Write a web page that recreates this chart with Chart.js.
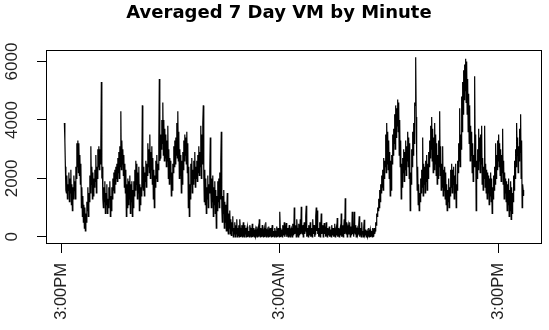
<!DOCTYPE html>
<html>
<head>
<meta charset="utf-8">
<script src="https://cdn.jsdelivr.net/npm/chart.js@4.4.1/dist/chart.umd.min.js"></script>
<style>
  html, body { margin: 0; padding: 0; background: #fff; }
  canvas { display: block; }
</style>
</head>
<body>
<canvas id="myChart" width="549" height="330"></canvas>
<script>
// averaged VM (about two readings per pixel column)
var vm = [
  3900,3300, 2400,1600, 1500,2100, 1300,1800, 1600,2200, 1200,2000, 1500,2300, 1100,1800, 900,1700, 1300,2100,
  1600,1900, 1300,2400, 2000,3200, 2400,3300, 2200,3200, 2100,2800, 1800,2500, 1000,1700, 700,1400, 500,1100,
  300,1000, 200,800, 500,1200, 900,1700, 700,1500, 1200,2100, 1500,3100, 1800,2400, 1300,2200, 1400,2000,
  1700,2300, 1900,2800, 1500,2400, 2000,3000, 2400,3100, 2300,3000, 2500,3200, 5300,2000, 2400,1300, 1000,1700,
  1200,1900, 800,1500, 1100,1800, 800,1300, 1000,1700, 1300,1900, 700,1400, 900,1700, 1300,2000, 1600,2200,
  1500,2300, 1800,2400, 2000,2500, 1900,2700, 2200,2900, 2000,3100, 2400,4300, 2300,3300, 2500,3000, 2100,2800,
  1700,2500, 1500,2300, 700,1800, 1000,2000, 1100,1900, 1300,2100, 800,1800, 1200,1900, 700,1600, 1000,1900,
  1400,2300, 1600,2600, 1800,2500, 1300,2200, 1500,2400, 900,1800, 1100,1700, 1400,2200, 4500,1800, 1600,2400,
  1400,2200, 1900,2600, 1700,2500, 2100,3200, 2400,3000, 2200,3500, 2000,2900, 2300,3100, 1800,2700, 1300,2300,
  1000,2100, 1700,2600, 2000,2800, 1900,2500, 2300,3200, 5400,2600, 2700,3500, 3000,4000, 3200,4600, 2800,4000,
  2600,3700, 2700,3500, 2400,3300, 2600,3800, 2000,3000, 1800,2700, 2100,2600, 1400,2200, 1600,2500, 2200,3100,
  2400,3300, 2500,3400, 2800,3900, 2700,4300, 2600,3600, 2000,3000, 2100,2800, 1500,2600, 1800,2900, 2300,3300,
  2600,3500, 2800,3400, 2500,3600, 2200,3200, 1000,2400, 700,1800, 1300,2500, 1800,2700, 1500,2300, 1800,2600,
  2000,2900, 1700,2400, 2000,2600, 1900,2800, 2200,3100, 2100,2900, 2400,3800, 2000,3500, 2500,3900, 4500,2100,
  1200,2300, 1100,2000, 800,1700, 1300,2100, 1000,1800, 1500,2200, 3400,1600, 1000,2000, 1200,2100, 700,1700,
  1100,1900, 800,1600, 300,1400, 900,1900, 1200,2000, 1000,2200, 1300,2600, 3600,1000, 500,1400, 800,1600,
  300,1200, 500,1100, 200,900, 1500,300, 100,800, 300,900, 100,600, 50,500, 200,700, 0,300,
  100,500, 0,400, 100,600, 0,300, 50,400, 0,600, 300,0, 100,400, 0,200, 500,50,
  0,400, 100,300, 0,250, 350,0, 100,200, 0,400, 300,50, 0,200, 450,0, 100,300,
  0,150, 250,0, 50,350, 0,200, 300,0, 600,100, 0,300, 150,0, 400,50, 0,200,
  300,0, 100,500, 0,200, 250,50, 0,350, 150,0, 300,100, 0,250, 400,0, 100,200,
  0,300, 200,50, 0,350, 150,0, 300,100, 0,860, 300,0, 100,250, 0,400, 200,50,
  500,0, 100,300, 470,0, 150,300, 0,200, 400,50, 0,250, 300,100, 0,450, 200,50,
  1000,100, 200,400, 0,600, 300,100, 0,450, 200,50, 600,100, 1030,200, 100,400, 0,300,
  500,100, 200,700, 1060,0, 300,100, 0,400, 200,50, 500,0, 100,300, 0,600, 200,100,
  400,0, 100,700, 1000,200, 900,100, 300,0, 100,500, 0,300, 800,100, 200,400, 0,250,
  470,100, 200,0, 500,100, 0,300, 200,50, 350,0, 100,250, 0,400, 200,50, 300,0,
  100,450, 0,200, 300,50, 640,0, 100,300, 0,200, 300,50, 800,0, 100,400, 0,300,
  600,100, 1320,200, 100,500, 0,300, 400,100, 100,500, 0,350, 200,50, 860,100, 300,0,
  860,200, 100,400, 0,250, 300,50, 100,400, 700,0, 200,300, 0,500, 100,200, 0,300,
  580,50, 100,250, 0,150, 200,0, 50,300, 0,150, 250,0, 100,200, 0,300, 150,0,
  300,100, 200,500, 400,800, 700,1000, 900,1300, 1000,1600, 1200,1800, 1500,2100, 1700,2300, 1600,2700,
  2000,2600, 2400,3500, 2200,3900, 2500,3600, 2300,3300, 2000,2900, 1400,2600, 1600,2800, 2500,3500, 2800,3700,
  3200,4200, 3000,4500, 3400,4400, 3800,4700, 3600,4600, 2800,4000, 2400,3300, 1300,2500, 1700,2700, 2200,3000,
  1900,2900, 2300,3300, 2100,3100, 2600,3600, 2400,3400, 2000,3200, 900,2200, 1800,3000, 2400,3600, 2800,3900,
  3200,4600, 4500,6150, 4100,2800, 1600,2400, 1100,1800, 900,1500, 1200,2000, 1500,2300, 1700,3400, 1400,2500,
  1800,2400, 1500,2600, 1900,2800, 1600,2500, 2000,2900, 2400,3300, 2700,3800, 3000,4100, 2600,3700, 2200,3400,
  2300,3900, 2500,3500, 2100,3200, 1800,2800, 2000,3300, 2400,4300, 2100,3100, 1600,2500, 1700,3100, 1400,2300,
  1600,2400, 1300,2200, 1100,1800, 900,1600, 1200,2000, 1000,1700, 1400,2300, 1700,2500, 1500,2300, 1800,2400,
  1300,2100, 1500,2500, 1000,1800, 1600,2600, 2200,3200, 2600,4400, 2400,3500, 3000,4800, 3600,5300, 4200,5700,
  4700,5900, 5000,6100, 4600,6000, 4200,5400, 3600,4900, 3200,4500, 2600,3800, 2800,3600, 2200,3200, 1900,2800,
  2400,5500, 2800,3500, 900,2600, 2000,3000, 2300,3700, 2600,3400, 2200,3500, 2500,3800, 1800,2700, 1600,2400,
  2000,3800, 1700,2500, 1500,2300, 1300,2200, 1500,2100, 1100,2000, 1400,2200, 1200,2000, 800,1700, 1300,2100,
  1600,2400, 1800,3200, 2000,2800, 2300,3300, 2600,3500, 2400,3200, 2100,3000, 1900,2800, 2200,3700, 1800,2600,
  1300,2200, 1500,2000, 1200,1900, 900,1800, 1100,2000, 700,1600, 900,1900, 600,1700, 800,1500, 1200,2100,
  1600,2600, 2000,3000, 2400,3900, 2800,3400, 2200,3100, 2600,3700, 2900,4200, 2000,3300, 1000,1800, 1600,1400
];

// x ticks (position in the series) and their labels
var xTickPos = [-6, 430, 868];
var xTickLabels = ['3:00PM', '3:00AM', '3:00PM'];
var yTicks = [0, 2000, 4000, 6000];

var titleText = 'Averaged 7 Day VM by Minute';

var points = [];
for (var i = 0; i < vm.length; i++) {
    points.push({ x: i, y: vm[i] });
}

// R style 4% padding around the data range
var n = vm.length - 1;
var yLo = Math.min.apply(null, vm);
var yHi = Math.max.apply(null, vm);
var yPad = (yHi - yLo) * 0.04;

var boxAndTitle = {
    id: 'boxAndTitle',
    afterDraw: function (chart) {
        var c = chart.ctx;
        var a = chart.chartArea;
        c.save();
        c.strokeStyle = '#000';
        c.lineWidth = 1;
        c.strokeRect(Math.round(a.left) + 0.5, Math.round(a.top) + 0.5,
            Math.round(a.right - a.left) - 1, Math.round(a.bottom - a.top) - 1);
        c.fillStyle = '#000';
        c.font = 'bold 18px "DejaVu Sans"';
        c.textAlign = 'center';
        c.textBaseline = 'alphabetic';
        c.fillText(titleText, 279, 18);
        c.restore();
    }
};

var ctx = document.getElementById('myChart');
var myChart = new Chart(ctx, {
    type: 'line',
    data: {
        datasets: [{
            data: points,
            borderColor: '#000',
            borderWidth: 1.2,
            pointRadius: 0,
            tension: 0,
            fill: false
        }]
    },
    options: {
        responsive: false,
        animation: false,
        layout: { padding: { top: 50, right: 7, left: 0, bottom: 0 } },
        plugins: {
            legend: { display: false },
            tooltip: { enabled: false }
        },
        scales: {
            x: {
                type: 'linear',
                min: -n * 0.04,
                max: n * 1.04,
                afterBuildTicks: function (s) {
                    s.ticks = xTickPos.map(function (v) { return { value: v }; });
                },
                afterFit: function (s) { s.height = 86; },
                border: { display: false },
                grid: { drawOnChartArea: false, drawTicks: true, tickLength: 9, color: '#000' },
                ticks: {
                    autoSkip: false,
                    minRotation: 90,
                    maxRotation: 90,
                    padding: 10,
                    color: '#222',
                    font: { family: '"Liberation Sans", Arial', size: 16.5 },
                    callback: function (v, i) { return xTickLabels[i]; }
                }
            },
            y: {
                min: yLo - yPad,
                max: yHi + yPad,
                afterBuildTicks: function (s) {
                    s.ticks = yTicks.map(function (v) { return { value: v }; });
                },
                afterFit: function (s) { s.width = 46; },
                border: { display: false },
                grid: { drawOnChartArea: false, drawTicks: true, tickLength: 9, color: '#000' },
                ticks: {
                    minRotation: 90,
                    maxRotation: 90,
                    crossAlign: 'center',
                    padding: 6,
                    color: '#222',
                    font: { family: '"Liberation Sans", Arial', size: 17 },
                    callback: function (v) { return String(v); }
                }
            }
        }
    },
    plugins: [boxAndTitle]
});
</script>
</body>
</html>
